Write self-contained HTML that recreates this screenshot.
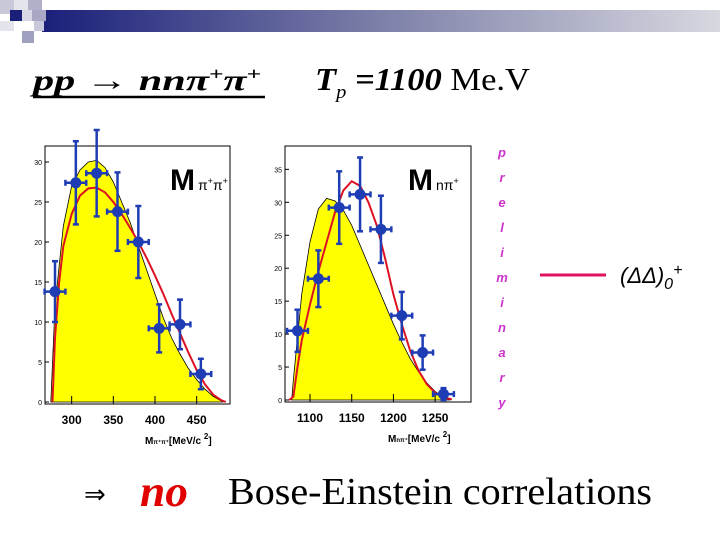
<!DOCTYPE html>
<html><head><meta charset="utf-8"><style>
body{margin:0;background:#fff}
svg{display:block}
text{font-family:"Liberation Sans",sans-serif}
</style></head><body>
<svg id="s" width="720" height="540" xmlns="http://www.w3.org/2000/svg">
<defs><linearGradient id="g" x1="0" x2="1"><stop offset="0" stop-color="#1a1f7a"/><stop offset="0.5" stop-color="#7d80a8"/><stop offset="1" stop-color="#d8d8e0"/></linearGradient></defs>
<g>
<rect x="42" y="10" width="678" height="22" fill="url(#g)"/>
<rect x="0" y="0" width="14" height="14" fill="#c8c8d8"/>
<rect x="14" y="0" width="14" height="10" fill="#e4e4ec"/>
<rect x="28" y="0" width="14" height="10" fill="#b0b0c8"/>
<rect x="10" y="10" width="12" height="11" fill="#1a1f7a"/>
<rect x="22" y="10" width="10" height="11" fill="#d8d8e4"/>
<rect x="32" y="10" width="14" height="11" fill="#a8a8c4"/>
<rect x="0" y="21" width="14" height="10" fill="#e4e4ec"/>
<rect x="22" y="31" width="12" height="12" fill="#a0a0c0"/>
<rect x="34" y="21" width="10" height="10" fill="#c8c8dc"/>
</g>
<text x="33" y="90" font-size="30" font-weight="bold" font-style="italic" textLength="228" lengthAdjust="spacingAndGlyphs" style="font-family:'Liberation Serif',serif">pp → nnπ<tspan font-size="18" dy="-10">+</tspan><tspan dy="10">π</tspan><tspan font-size="18" dy="-10">+</tspan></text>
<line x1="33" y1="97" x2="265" y2="97" stroke="#000" stroke-width="2.5"/>
<text x="315" y="90" font-size="32" textLength="215" lengthAdjust="spacingAndGlyphs" style="font-family:'Liberation Serif',serif"><tspan font-style="italic" font-weight="bold">T</tspan><tspan font-size="19" dy="8" font-style="italic">p</tspan><tspan dy="-8" font-weight="bold" font-style="italic"> =1100 </tspan><tspan>Me.V</tspan></text>
<g id="c1"></g>
<g id="c2"></g>
<g id="prel" fill="#cc33cc" font-size="13" font-weight="bold" font-style="italic" style="font-family:'Liberation Serif',serif"></g>
<line x1="540" y1="275" x2="606" y2="275" stroke="#e0115f" stroke-width="3"/>
<text x="620" y="283" font-size="22" font-style="italic">(ΔΔ)<tspan font-size="16" dy="6">0</tspan><tspan font-size="16" dy="-14">+</tspan></text>
<text x="84" y="503" font-size="26">⇒</text>
<text x="140" y="506" font-size="44" fill="#e00000" font-style="italic" font-weight="bold" textLength="48" lengthAdjust="spacingAndGlyphs" style="font-family:'Liberation Serif',serif">no</text>
<text x="228" y="504" font-size="38" textLength="424" lengthAdjust="spacingAndGlyphs" style="font-family:'Liberation Serif',serif">Bose-Einstein correlations</text>
</svg>
<script>
const NS="http://www.w3.org/2000/svg";
const leftX=[280,305,330,355,380,405,430,455];
const leftY=[13.8,27.4,28.6,23.8,20,9.2,9.7,3.5];
const leftErr=[3.8,5.2,5.4,4.9,4.5,3,3.1,1.9];
const leftYellowX=[275,280,290,300,310,320,330,340,350,360,370,380,390,400,410,420,430,440,450,460,470,480,482];
const leftYellowY=[0,12,22,27,29,30,30.2,29.3,27.5,25,22.5,19.5,16.5,13.5,10.5,8,6,4.2,2.8,1.6,0.7,0.1,0];
const leftRedX=[277,280,285,290,300,310,320,330,340,350,360,370,380,390,400,410,420,430,440,450,460,470,480,485];
const leftRedY=[0,8,15,19.5,23.5,25.8,26.7,26.8,26.2,25,23.5,21.8,20,18,15.8,13.5,11,8.6,6.2,4,2.2,0.9,0.2,0];
const leftXTicks=[300,350,400,450];
const leftYTicks=[0,5,10,15,20,25,30];
const rightX=[1085,1110,1135,1160,1185,1210,1235,1260];
const rightY=[10.5,18.4,29.2,31.2,25.9,12.8,7.2,0.9];
const rightErr=[3.2,4.3,5.5,5.6,5.1,3.6,2.6,0.9];
const rightYellowX=[1078,1080,1090,1100,1110,1120,1130,1140,1150,1160,1170,1180,1190,1200,1210,1220,1230,1240,1250,1260,1268];
const rightYellowY=[0,3,16,24,29,30.6,30.2,28.8,26.5,23.5,20.5,17.5,14.5,11.5,8.8,6.3,4.3,2.6,1.3,0.4,0];
const rightRedX=[1075,1080,1085,1090,1100,1110,1120,1130,1140,1150,1160,1170,1180,1190,1200,1210,1220,1230,1240,1250,1260,1270];
const rightRedY=[0,0.5,5,9,14.5,19.5,24,28.5,31.8,33.2,32.5,30,26.5,21.5,16,11.5,7.5,4.5,2.4,1.1,0.4,0.1];
const rightXTicks=[1100,1150,1200,1250];
const rightYTicks=[0,5,10,15,20,25,30,35];

function mk(tag,attrs,parent){const e=document.createElementNS(NS,tag);for(const k in attrs)e.setAttribute(k,attrs[k]);parent.appendChild(e);return e;}

function chart(g,o){
  const sx=v=>o.L+(v-o.x0)*(o.R-o.L)/(o.x1-o.x0);
  const sy=v=>o.B-v*o.py;
  const frame=mk('rect',{x:o.L,y:o.T,width:o.R-o.L,height:o.B-o.T+2,fill:'#fff',stroke:'#000','stroke-width':1},g);
  
  
  let d='M'+sx(o.yx[0])+','+sy(0);
  o.yx.forEach((x,i)=>d+=' L'+sx(x)+','+sy(o.yy[i]));
  d+=' Z';
  const y=mk('path',{d:d,fill:'#ffff00',stroke:'#000','stroke-width':0.8},g);
  
  
  const r=mk('polyline',{points:o.rx.map((x,i)=>sx(x)+','+sy(o.ry[i])).join(' '),fill:'none',stroke:'#dd1122','stroke-width':2},g);
  
  
  o.yt.forEach(v=>{
    mk('line',{x1:o.L,x2:o.L+4,y1:sy(v),y2:sy(v),stroke:'#000'},g);
    const t=mk('text',{x:o.L-3,y:sy(v)+3,'font-size':7,'text-anchor':'end'},g);t.textContent=v;
    
    
  });
  o.xt.forEach(v=>{
    mk('line',{x1:sx(v),x2:sx(v),y1:o.B+2,y2:o.B-6,stroke:'#000'},g);
    const t=mk('text',{x:sx(v),y:o.B+22,'font-size':12,'font-weight':'bold','text-anchor':'middle'},g);t.textContent=v;
    
    
  });
  o.px.forEach((x,i)=>{
    const pg=mk('g',{stroke:'#1e3cb4','stroke-width':2.5,fill:'#1e3cb4'},g);
    
    
    const cx=sx(x),cy=sy(o.pv[i]),e=o.pe[i]*o.py,h=12.5*(o.R-o.L)/(o.x1-o.x0);
    mk('line',{x1:cx,x2:cx,y1:cy-e,y2:cy+e},pg);
    mk('line',{x1:cx-3,x2:cx+3,y1:cy-e,y2:cy-e},pg);
    mk('line',{x1:cx-3,x2:cx+3,y1:cy+e,y2:cy+e},pg);
    mk('line',{x1:cx-h,x2:cx+h,y1:cy,y2:cy},pg);
    mk('line',{x1:cx-h,x2:cx-h,y1:cy-3,y2:cy+3},pg);
    mk('line',{x1:cx+h,x2:cx+h,y1:cy-3,y2:cy+3},pg);
    mk('circle',{cx:cx,cy:cy,r:5.5,stroke:'none'},pg);
  });
  const m=mk('text',{x:o.mx,y:o.T+44,'font-size':30,'font-weight':'bold'},g);
  m.innerHTML='M<tspan font-size="14" font-weight="normal" dx="3">'+o.sub+'</tspan>';
  
  
  const xl=mk('text',{x:o.xlx,y:o.B+42,'font-size':10,'font-weight':'bold'},g);
  xl.innerHTML=o.xl;
  
  
}
chart(document.getElementById('c1'),{L:45,R:230,T:146,B:402,x0:268,x1:490,py:8,yx:leftYellowX,yy:leftYellowY,rx:leftRedX,ry:leftRedY,px:leftX,pv:leftY,pe:leftErr,xt:leftXTicks,yt:leftYTicks,mx:170,sub:'π<tspan font-size="9" dy="-6">+</tspan><tspan dy="6">π</tspan><tspan font-size="9" dy="-6">+</tspan>',xlx:145,xl:'M<tspan font-size="6">π⁺π⁺</tspan>[MeV/c <tspan dy="-5" font-size="8">2</tspan><tspan dy="5">]</tspan>'});
chart(document.getElementById('c2'),{L:285,R:471,T:146,B:400,x0:1070,x1:1293,py:6.59,yx:rightYellowX,yy:rightYellowY,rx:rightRedX,ry:rightRedY,px:rightX,pv:rightY,pe:rightErr,xt:rightXTicks,yt:rightYTicks,mx:408,sub:'nπ<tspan font-size="9" dy="-6">+</tspan>',xlx:388,xl:'M<tspan font-size="6">nπ⁺</tspan>[MeV/c <tspan dy="-5" font-size="8">2</tspan><tspan dy="5">]</tspan>'});
const pr=document.getElementById('prel');
'preliminary'.split('').forEach((c,i)=>{
  const t=mk('text',{x:502,y:157+i*25,'text-anchor':'middle'},pr);
  t.textContent=c;
  
  
});
</script>
</body></html>
